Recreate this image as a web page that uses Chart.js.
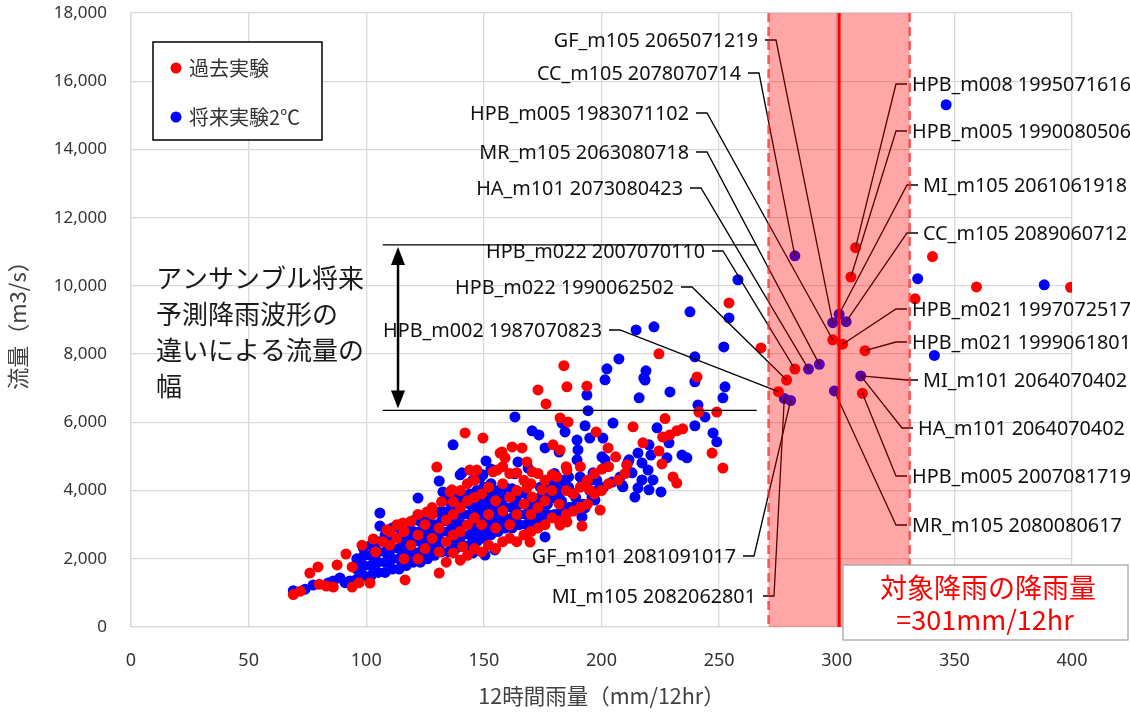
<!DOCTYPE html>
<html>
<head>
<meta charset="utf-8">
<script src="https://cdn.jsdelivr.net/npm/chart.js@4.4.1/dist/chart.umd.min.js"></script>
<style>
  html, body { margin:0; padding:0; background:#fff; }
  #wrap { width:1130px; height:712px; }
</style>
</head>
<body>
<div id="wrap"><canvas id="myChart" width="1130" height="712"></canvas></div>
<script>
// 過去実験 [12時間雨量, 流量]
var pastPts = [
  [69,950],[72,1050],[76,1580],[79.5,1760],[80,1250],[83,1200],[86,1170],[87.6,1820],[91.4,2140],[94,1170],
  [94,1760],[97,1300],[98.2,2400],[101.6,1290],[103,2580],[108.8,2850],[115.6,3050],
  [116.5,1380],[104,2200],[107,2500],[110,2400],[110,2800],[113,2600],[113,3000],[116,2000],[116,2800],
  [119,2400],[119,3100],[122,2000],[122,2700],[122,3300],[125,2300],[125,3000],
  [125.8,3370],[128,2600],[128,3300],[128,3500],[131,1580],[131,2200],[131,2900],[132,3670],[134,1900],
  [134,2500],[134,3140],[135.6,3960],[137,2170],[137,2700],[137,3300],[137,3670],[140,1960],[140,2800],[140,3500],
  [140,4000],[141,2350],[143,2100],[143,3000],[143,3700],[143,4200],[146,2300],[146,3200],[146,3800],[146,4300],
  [149,2200],[149,3000],[149,3900],[152,2400],[152,3300],[152,4100],[155,2300],[155,2900],[155,3700],[158,2500],
  [158,3400],[158,4200],[158,4700],[161,2600],[161,3000],[161,3800],[161,4500],[164,2500],[164,3300],[164,4000],
  [167,2700],[167,3600],[167,4300],[170,2800],[170,3300],[170,4200],[170.5,3810],[173,2900],[173,3500],[173,4500],
  [174.7,4020],[176,3000],[176,3700],[176,4300],[179,3200],[179,4000],[182,3100],[182.4,2990],[182,3600],[185,3300],
  [185.3,3080],[185,4000],[185,4700],[188,3400],[188,3900],[191.7,2960],[191,3500],[191,4100],[191,4700],[194,3600],
  [194,4300],[195,4020],[197,3900],[199.4,3430],[197,4500],[200,4000],[203,4200],[203,4700],[207,4300],[210,4500],
  [210.8,4750],[169.6,2490],
  [130,4690],[136.4,4020],[142,5690],[144,4600],[147,4600],[149.6,5540],[153.9,4550],[155.6,4600],[156.9,5100],[157.7,5130],
  [159,4960],[162,5280],[164,4520],[166.2,5250],[168.3,4840],[168.3,4080],[170.5,4550],[173,6950],[176.4,6540],[179,4460],
  [179.4,5340],[181,4400],[182.4,5190],[182.4,6130],[184,7660],[185.3,4600],[185.3,7040],[185.8,6010],[193.8,7060],[197.7,5720],
  [200.2,4630],[202.8,5250],[206,4990],[213.4,5870],[217.6,5400],[224.4,5160],[224.4,8010],[225.7,4780],[226,5570],[227,6110],
  [229,5630],[230.4,4400],[232,4220],[232,5750],[234.5,5810],[240.6,7330],[241.4,6300],[247,5100],[249,6300],[251.6,4660],
  [254.2,9500],[267.8,8180],
  [308,11120],[306,10260],[298.3,8420],[302.5,8290],[312,8100],[282.2,7560],[278.7,7240],[275.2,6900],[310.9,6850],
  [340.7,10860],[359.4,9970],[399.4,9960],[333.3,9620]
];

// 将来実験2℃ [12時間雨量, 流量]
var futurePts = [
  [69,1065],[74,1110],[77.4,1230],[83.8,1290],[86,1350],[88.8,1440],[91,1300],[93,1350],
  [96,1400],[96,1700],[96,2000],[99,1500],[99,1800],[99,2100],[98.7,2320],
  [102,1500],[102,1800],[102,2100],[102,2400],[105,1600],[105,1900],[105,2200],[105,2500],[105.8,2960],[105.8,3340],
  [108,1600],[108,1900],[108,2200],[108,2500],[108,2700],[111,1700],[111,2000],[111,2300],[111,2600],[111,2900],
  [114,1700],[114,2000],[114,2300],[114,2600],[114,2900],[117,1800],[117,2100],[117,2400],[117,2700],[117.3,2930],
  [120,1900],[120,2200],[120,2500],[120,2800],[120.5,3140],[123,1900],[123,2200],[123,2500],[123,2800],[123,3100],[122,3780],
  [126,2000],[126,2300],[126,2600],[126,2900],[126,3200],[129,2100],[129,2400],[129,2700],[129,3000],[129.6,3370],
  [132,2200],[132,2500],[132,2800],[132,3100],[132,3400],[132.6,3960],[131,4280],
  [135,2200],[135,2500],[135,2800],[135,3100],[135,3400],[135,3700],
  [138,2300],[138,2600],[138,2900],[138,3200],[138,3500],[138,3800],[136.9,5340],
  [141,2400],[141,2700],[141,3000],[141,3300],[141,3600],[141,3780],[140.7,4520],[139.9,4460],
  [144,2400],[144,2700],[144,3000],[144,3300],[144,3600],[144,3900],[145.4,2170],
  [147,2500],[147,2800],[147,3100],[147,3400],[147,3700],[147,4000],[145.4,4310],
  [150,2600],[150,2900],[150,3200],[150,3500],[150,3800],[150,4100],[148.4,4370],[150.9,4870],[150.5,2110],[149.6,4460],
  [153,2700],[153,3000],[153,3300],[153,3600],[153,3900],[153,4200],[153,4630],[154.7,2260],
  [156,2800],[156,3100],[156,3400],[156,3700],[156,4000],[159,2900],[159,3200],[159,3500],[159,3800],[159,4100],
  [162,2900],[162,3200],[162,3500],[162,3800],[162,4050],[163.2,4490],
  [165,3000],[165,3300],[165,3600],[165,3900],[164.5,4840],[163.2,6160],
  [168,3000],[168,3300],[168,3600],[168,3900],[168.8,4660],[171,3100],[171,3400],[171,3700],[170.5,5750],
  [174,3200],[174,3500],[174,3800],[174,4100],[173.4,5630],[176,2640],
  [177,3300],[177,3600],[177,3900],[178.1,4140],[176,5250],[180,3300],[180.2,3780],[180,4200],[180,4500],
  [183,3400],[183,3700],[183,4000],[183,4300],[182,5130],[183.2,5980],
  [186,3500],[187.9,3520],[187.5,3930],[186,4100],[186,4400],[184.5,5720],
  [189,3800],[190.9,4400],[189.6,4900],[189.6,5480],[190,5190],
  [191.7,3230],[193,3490],[192,3600],[192,4200],[196.4,4520],
  [196,3810],[197.2,3720],[195,4000],[195,4300],[195,5540],[193,5900],[193.8,6800],[194.3,6340],
  [198,4000],[198,4300],[200.6,5540],[200.2,4990],[201.5,4900],[201.5,7245],[202.3,7570],[201,4100],
  [204.5,4250],[204.9,5980],[207.9,4400],[209.1,4110],[207.4,7860],[208.7,4160],
  [210.8,4750],[211.3,4840],[211.7,4900],[213,4520],[214.2,3810],[215.5,4080],[215.5,5100],
  [216,6720],[218.5,7240],[218.9,7510],[218,7300],[214.7,8710],[217.2,4810],[217.2,4310],
  [219.8,4600],[220.2,4020],[220.2,5340],[221,5040],[221.9,4310],[222.3,8800],[223.6,5840],
  [225.3,3960],[227.8,4960],[228.7,5400],[229.1,6890],
  [234.2,5040],[236.3,4960],[239.7,5900],[239.7,7190],[239.7,7920],[237.6,9240],
  [241,6510],[244,6160],[247.4,5690],[249,5430],
  [251.6,6720],[252.5,7040],[252,8210],[254.2,9060],[258,10180],
  [282.2,10880],[301,9170],[298.3,8920],[304,8950],[288,7560],[292.6,7700],[277.7,6700],[280.4,6640],[299,6920],[310.2,7360],
  [334.4,10210],[388.2,10030],[341.5,7960],[346.5,15310]
];

var xTicksMax = 400, yTicksMax = 18000;
var targetRain = 301;            // 対象降雨の降雨量
var rainBand = [271, 331];       // 301 ± 30
var flowRange = [6350, 11200];   // アンサンブル将来予測による流量の幅
var flowRangeX = [107, 266];
var arrowX = 113.5;

var labelNames = [
  'GF_m105 2065071219','CC_m105 2078070714','HPB_m005 1983071102','MR_m105 2063080718','HA_m101 2073080423',
  'HPB_m022 2007070110','HPB_m022 1990062502','HPB_m002 1987070823','GF_m101 2081091017','MI_m105 2082062801',
  'HPB_m008 1995071616','HPB_m005 1990080506','MI_m105 2061061918','CC_m105 2089060712','HPB_m021 1997072517',
  'HPB_m021 1999061801','MI_m101 2064070402','HA_m101 2064070402','HPB_m005 2007081719','MR_m105 2080080617'
];
var labelRain = [298.3,282.2,298.3,292.6,288, 282.2,278.7,275.2,280.4,277.7, 308,306,301,304,302.5, 312,310.2,310.2,310.9,299];
var labelFlow = [8920,10880,8420,7700,7560, 7560,7240,6900,6640,6700, 11120,10260,9170,8950,8290, 8100,7360,7360,6850,6920];

var noteLines = ['アンサンブル将来','予測降雨波形の','違いによる流量の','幅'];
var boxLines = ['対象降雨の降雨量','=301mm/12hr'];

// label layout (pixels): side, text anchor x, y
var labelLayout = [
  ['L',758,40],['L',741,73],['L',689,113],['L',689,152],['L',683,188],
  ['L',705,251],['L',674,287],['L',602,330],['L',736,556],['L',756,596],
  ['R',912,84],['R',912,131],['R',923,185],['R',923,233],['R',912,309],
  ['R',912,342],['R',923,380],['R',918,428],['R',912,476],['R',912,525]
];

var labelFont = '19.8px "Noto Sans"';
var jpFont = '"Noto Sans CJK JP"';

var overlay = {
  id: 'overlay',
  afterDatasetsDraw: function(chart){
    var ctx = chart.ctx, a = chart.chartArea, x = chart.scales.x, y = chart.scales.y;
    ctx.save();

    // leader lines
    ctx.strokeStyle = '#000';
    ctx.lineWidth = 1.3;
    for (var i = 0; i < labelNames.length; i++) {
      var L = labelLayout[i];
      var px = x.getPixelForValue(labelRain[i]), py = y.getPixelForValue(labelFlow[i]);
      var s0, s1;
      if (L[0] == 'L') { s0 = L[1] + 7; s1 = L[1] + 18; }
      else { s0 = L[1] - 5; s1 = L[1] - 16; }
      ctx.beginPath();
      ctx.moveTo(s0, L[2]); ctx.lineTo(s1, L[2]); ctx.lineTo(px, py);
      ctx.stroke();
    }

    // band
    var b0 = x.getPixelForValue(rainBand[0]), b1 = x.getPixelForValue(rainBand[1]);
    ctx.fillStyle = 'rgba(255,0,0,0.35)';
    ctx.fillRect(b0, a.top, b1 - b0, a.bottom - a.top);
    ctx.strokeStyle = 'rgba(255,40,40,0.75)';
    ctx.lineWidth = 2.5;
    ctx.setLineDash([9, 5]);
    [b0, b1].forEach(function(bx){
      ctx.beginPath(); ctx.moveTo(bx, a.top); ctx.lineTo(bx, a.bottom); ctx.stroke();
    });
    ctx.setLineDash([]);
    var tx = x.getPixelForValue(targetRain);
    ctx.strokeStyle = '#ff0000';
    ctx.lineWidth = 3;
    ctx.beginPath(); ctx.moveTo(tx, a.top); ctx.lineTo(tx, a.bottom); ctx.stroke();

    // range lines + arrow
    var r0 = x.getPixelForValue(flowRangeX[0]), r1 = x.getPixelForValue(flowRangeX[1]);
    var yTop = y.getPixelForValue(flowRange[1]), yBot = y.getPixelForValue(flowRange[0]);
    ctx.strokeStyle = '#000';
    ctx.lineWidth = 1.3;
    ctx.beginPath();
    ctx.moveTo(r0, yTop); ctx.lineTo(r1, yTop);
    ctx.moveTo(r0, yBot); ctx.lineTo(r1, yBot);
    ctx.stroke();
    var ax = x.getPixelForValue(arrowX);
    ctx.lineWidth = 2.5;
    ctx.beginPath(); ctx.moveTo(ax, yTop + 10); ctx.lineTo(ax, yBot - 10); ctx.stroke();
    ctx.fillStyle = '#000';
    ctx.beginPath(); ctx.moveTo(ax, yTop + 2); ctx.lineTo(ax - 7, yTop + 20); ctx.lineTo(ax + 7, yTop + 20); ctx.closePath(); ctx.fill();
    ctx.beginPath(); ctx.moveTo(ax, yBot - 2); ctx.lineTo(ax - 7, yBot - 20); ctx.lineTo(ax + 7, yBot - 20); ctx.closePath(); ctx.fill();

    // note text
    ctx.font = '26px ' + jpFont;
    ctx.fillStyle = '#1a1a1a';
    ctx.textAlign = 'left';
    ctx.textBaseline = 'middle';
    noteLines.forEach(function(t, k){ ctx.fillText(t, 156, 278 + k * 36); });

    // labels
    ctx.font = labelFont;
    ctx.fillStyle = '#111';
    for (var j = 0; j < labelNames.length; j++) {
      var M = labelLayout[j];
      ctx.textAlign = M[0] == 'L' ? 'right' : 'left';
      ctx.fillText(labelNames[j], M[1], M[2] + 1);
    }

    // legend
    ctx.fillStyle = '#fff';
    ctx.fillRect(153, 42, 169, 98);
    ctx.strokeStyle = '#000';
    ctx.lineWidth = 1.5;
    ctx.strokeRect(153, 42, 169, 98);
    var names = chart.data.datasets;
    [68, 117].forEach(function(ly, k){
      ctx.fillStyle = names[k].backgroundColor;
      ctx.beginPath(); ctx.arc(176, ly, 5.5, 0, Math.PI * 2); ctx.fill();
      ctx.fillStyle = '#333';
      ctx.font = '20px ' + jpFont;
      ctx.textAlign = 'left';
      ctx.fillText(names[k].label, 189, ly);
    });
    ctx.restore();
  },
  afterDraw: function(chart){
    var ctx = chart.ctx;
    ctx.save();
    ctx.fillStyle = '#fff';
    ctx.fillRect(843, 565, 285, 75);
    ctx.strokeStyle = '#a6a6a6';
    ctx.lineWidth = 1.3;
    ctx.strokeRect(843, 565, 285, 75);
    ctx.fillStyle = '#ff0000';
    ctx.font = '27px ' + jpFont;
    ctx.textAlign = 'center';
    ctx.textBaseline = 'middle';
    ctx.fillText(boxLines[0], 988, 588);
    ctx.fillText(boxLines[1], 985, 620);
    ctx.restore();
  }
};

var ctx = document.getElementById('myChart').getContext('2d');
var myChart = new Chart(ctx, {
  type: 'scatter',
  data: {
    datasets: [{
      label: '過去実験',
      data: pastPts.map(function(p){ return {x: p[0], y: p[1]}; }),
      backgroundColor: '#ff0000',
      borderWidth: 0,
      pointRadius: 5.5,
      pointHoverRadius: 5.5
    }, {
      label: '将来実験2℃',
      data: futurePts.map(function(p){ return {x: p[0], y: p[1]}; }),
      backgroundColor: '#0000ff',
      borderWidth: 0,
      pointRadius: 5.5,
      pointHoverRadius: 5.5
    }]
  },
  options: {
    responsive: false,
    animation: false,
    layout: { padding: { left: 0, right: 58, top: 13, bottom: 0 } },
    plugins: { legend: { display: false }, tooltip: { enabled: false } },
    scales: {
      x: {
        type: 'linear', min: 0, max: xTicksMax,
        ticks: { stepSize: 50, color: '#333', font: { family: 'Noto Sans', size: 18 }, padding: 23 },
        grid: { color: '#d9d9d9', lineWidth: 1.3, drawTicks: false },
        border: { color: '#d9d9d9', width: 1.3 },
        title: { display: true, text: '12時間雨量（mm/12hr）', color: '#404040', font: { family: 'Noto Sans CJK JP', size: 21.5 }, padding: { top: 4, bottom: 3 } },
        afterFit: function(s){ s.height = 85; }
      },
      y: {
        min: 0, max: yTicksMax,
        ticks: { stepSize: 2000, color: '#333', font: { family: 'Noto Sans', size: 17 }, padding: 24,
                 callback: function(v){ return v.toLocaleString('en-US'); } },
        grid: { color: '#d9d9d9', lineWidth: 1.3, drawTicks: false },
        border: { color: '#d9d9d9', width: 1.3 },
        title: { display: true, text: '流量（m3/s）', color: '#404040', font: { family: 'Noto Sans CJK JP', size: 22 }, padding: { top: 4, bottom: 4 } },
        afterFit: function(s){ s.width = 131; s.paddingTop = 0; s.paddingBottom = 0; }
      }
    }
  },
  plugins: [overlay]
});
</script>
</body>
</html>
